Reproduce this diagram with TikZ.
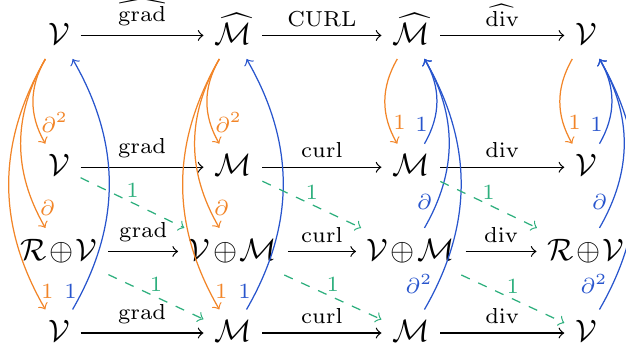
\documentclass[tikz,border=0pt]{standalone}
\usepackage{amsmath}
\usepackage{amssymb}
\definecolor{dorange}{RGB}{242,133,40}
\definecolor{dblue}{RGB}{40,85,205}
\definecolor{dgreen}{RGB}{45,175,125}
\newcommand{\dsum}{\mkern1.5mu{\oplus}\mkern1.5mu}

\begin{document}
\begin{tikzpicture}[cell/.style={inner sep=3.3pt,text height=1.6ex,text depth=0.3ex},
  lab/.style={font=\scriptsize,inner sep=1.5pt},
  hlab/.style={font=\scriptsize,inner sep=2.8pt,above},
  dflow/.style={->,dorange,bend right=30},
  uflow/.style={->,dblue,bend right=30},
  sflow/.style={->,dgreen,dashed}]
\useasboundingbox (0,0) rectangle (7.1,3.957);
% the four rows
\node[cell] (V1) at (0.669,3.555) {$\mathcal{V}$};
\node[cell] (M1) at (2.642,3.555) {$\widehat{\mathcal{M}}$};
\node[cell] (N1) at (4.660,3.555) {$\widehat{\mathcal{M}}$};
\node[cell] (W1) at (6.645,3.555) {$\mathcal{V}$};
\node[cell] (V2) at (0.669,2.06) {$\mathcal{V}$};
\node[cell] (M2) at (2.642,2.06) {$\mathcal{M}$};
\node[cell] (N2) at (4.660,2.06) {$\mathcal{M}$};
\node[cell] (W2) at (6.645,2.06) {$\mathcal{V}$};
\node[cell] (V3) at (0.669,1.105) {$\mathcal{R}\dsum\mathcal{V}$};
\node[cell] (M3) at (2.642,1.105) {$\mathcal{V}\dsum\mathcal{M}$};
\node[cell] (N3) at (4.660,1.105) {$\mathcal{V}\dsum\mathcal{M}$};
\node[cell] (W3) at (6.645,1.105) {$\mathcal{R}\dsum\mathcal{V}$};
\node[cell] (V4) at (0.669,0.18) {$\mathcal{V}$};
\node[cell] (M4) at (2.642,0.18) {$\mathcal{M}$};
\node[cell] (N4) at (4.660,0.18) {$\mathcal{M}$};
\node[cell] (W4) at (6.645,0.18) {$\mathcal{V}$};
% horizontal maps
\draw[->] (V1) -- node[hlab] {$\widehat{\mathrm{grad}}$} (M1);
\draw[->] (M1) -- node[hlab] {$\mathrm{CURL}$} (N1);
\draw[->] (N1) -- node[hlab] {$\widehat{\mathrm{div}}$} (W1);
\draw[->] (V2) -- node[hlab] {$\mathrm{grad}$} (M2);
\draw[->] (M2) -- node[hlab] {$\mathrm{curl}$} (N2);
\draw[->] (N2) -- node[hlab] {$\mathrm{div}$} (W2);
\draw[->] (V3) -- node[hlab] {$\mathrm{grad}$} (M3);
\draw[->] (M3) -- node[hlab] {$\mathrm{curl}$} (N3);
\draw[->] (N3) -- node[hlab] {$\mathrm{div}$} (W3);
\draw[->] (V4) -- node[hlab] {$\mathrm{grad}$} (M4);
\draw[->] (M4) -- node[hlab] {$\mathrm{curl}$} (N4);
\draw[->] (N4) -- node[hlab] {$\mathrm{div}$} (W4);
% downward maps
\draw[dflow] (V1) to node[lab,pos=0.75,right] {$\partial^2$} (V2);
\draw[dflow] (V1) to node[lab,pos=0.88,right] {$\partial$} (V3);
\draw[dflow] (V1) to node[lab,pos=0.93,right] {$1$} (V4);
\draw[dflow] (M1) to node[lab,pos=0.75,right] {$\partial^2$} (M2);
\draw[dflow] (M1) to node[lab,pos=0.88,right] {$\partial$} (M3);
\draw[dflow] (M1) to node[lab,pos=0.93,right] {$1$} (M4);
\draw[dflow] (N1) to node[lab,pos=0.75,right] {$1$} (N2);
\draw[dflow] (W1) to node[lab,pos=0.75,right] {$1$} (W2);
% upward maps
\draw[uflow] (V4) to node[lab,pos=0.07,left] {$1$} (V1);
\draw[uflow] (M4) to node[lab,pos=0.07,left] {$1$} (M1);
\draw[uflow] (N2) to node[lab,pos=0.22,left] {$1$} (N1);
\draw[uflow] (N3) to node[lab,pos=0.15,left] {$\partial$} (N1);
\draw[uflow] (N4) to node[lab,pos=0.1,left] {$\partial^2$} (N1);
\draw[uflow] (W2) to node[lab,pos=0.22,left] {$1$} (W1);
\draw[uflow] (W3) to node[lab,pos=0.15,left] {$\partial$} (W1);
\draw[uflow] (W4) to node[lab,pos=0.1,left] {$\partial^2$} (W1);
% diagonal maps
\draw[sflow] (V2) -- node[lab,above] {$1$} (M3);
\draw[sflow] (M2) -- node[lab,above] {$1$} (N3);
\draw[sflow] (N2) -- node[lab,above] {$1$} (W3);
\draw[sflow] (V3) -- node[lab,above] {$1$} (M4);
\draw[sflow] (M3) -- node[lab,above] {$1$} (N4);
\draw[sflow] (N3) -- node[lab,above] {$1$} (W4);
\end{tikzpicture}
\end{document}
